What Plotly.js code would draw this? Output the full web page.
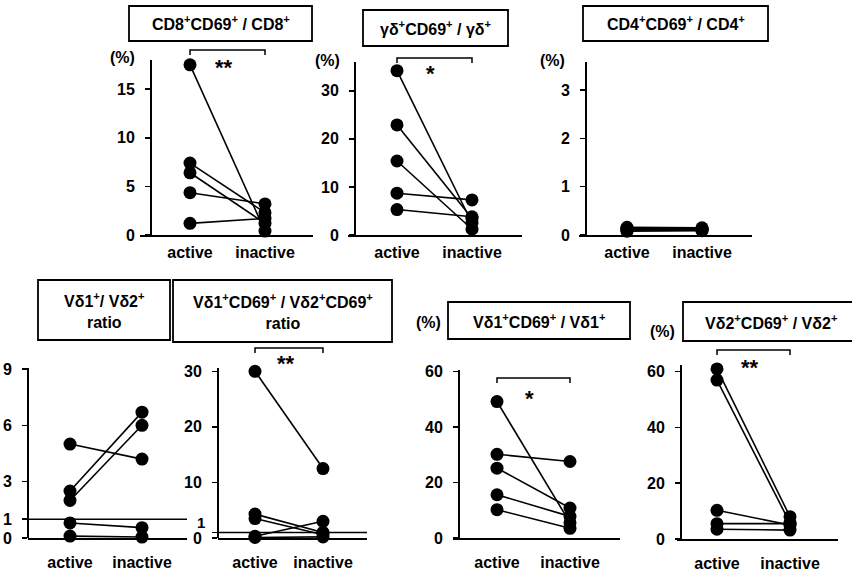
<!DOCTYPE html>
<html><head><meta charset="utf-8">
<script src="https://cdn.plot.ly/plotly-3.0.1.min.js"></script>
<style>html,body{margin:0;padding:0;background:#fff}#chart{width:852px;height:577px}</style>
</head><body><div id="chart"></div>
<script>
// ---- data ----
const categories = ['active', 'inactive'];
const cd8Active = [17.5, 7.4, 6.4, 4.35, 1.2];
const cd8Inactive = [0.4, 2.3, 1.2, 3.2, 1.7];
const gdActive = [34.2, 22.9, 15.4, 8.7, 5.3];
const gdInactive = [2.5, 3.5, 1.2, 7.3, 3.8];
const cd4Active = [0.16, 0.12, 0.1, 0.08, 0.14];
const cd4Inactive = [0.15, 0.1, 0.12, 0.09, 0.13];
const v1v2Active = [5.0, 2.5, 2.0, 0.8, 0.1];
const v1v2Inactive = [4.2, 6.7, 6.0, 0.55, 0.05];
const v1v2cd69Active = [30, 4.3, 3.5, 0.3, 0.1];
const v1v2cd69Inactive = [12.5, 1.0, 0.6, 3.0, 0.2];
const v1cd69Active = [49.2, 30.2, 25.2, 15.6, 10.2];
const v1cd69Inactive = [5.5, 27.6, 10.8, 7.8, 3.5];
const v2cd69Active = [61, 57, 10.3, 5.5, 3.5];
const v2cd69Inactive = [8, 5.7, 5.0, 5.5, 3.2];
const refValue = 1;

const titles = [
  'CD8<sup>+</sup>CD69<sup>+</sup> / CD8<sup>+</sup>',
  'γδ<sup>+</sup>CD69<sup>+</sup> / γδ<sup>+</sup>',
  'CD4<sup>+</sup>CD69<sup>+</sup> / CD4<sup>+</sup>',
  'Vδ1<sup>+</sup>/ Vδ2<sup>+</sup><br>ratio',
  'Vδ1<sup>+</sup>CD69<sup>+</sup> / Vδ2<sup>+</sup>CD69<sup>+</sup><br>ratio',
  'Vδ1<sup>+</sup>CD69<sup>+</sup> / Vδ1<sup>+</sup>',
  'Vδ2<sup>+</sup>CD69<sup>+</sup> / Vδ2<sup>+</sup>'
];
const tickSets = [[0,5,10,15],[0,10,20,30],[0,1,2,3],[0,1,3,6,9],[0,1,10,20,30],[0,20,40,60],[0,20,40,60]];
const significance = ['**','*','','','**','*','**'];

// ---- layout geometry (pixels) ----
const W = 852, H = 577;
const FONT = 'Liberation Sans, Arial, sans-serif';
const geo = [
  {xl:140, xr:313, yx:151, ytop:60,  ybot:235, ax:190, ix:265, ymax:18,   box:[129,6,312,41],  pct:[122,57], br:[50,63], std:2},
  {xl:348, xr:522, yx:355, ytop:62,  ybot:235, ax:397, ix:472, ymax:36,   box:[363,10,508,46], pct:[327,60], br:[58,68], std:2},
  {xl:579, xr:752, yx:586, ytop:62,  ybot:235, ax:627, ix:702, ymax:3.58, box:[583,6,768,41],  pct:[552,60], br:null, std:2},
  {xl:28,  xr:187, yx:28,  ytop:368, ybot:538, ax:70,  ix:142, ymax:9.05, box:[38,280,170,340], pct:null, br:null, std:9},
  {xl:218, xr:367, yx:218, ytop:368, ybot:538, ax:255, ix:323, ymax:30.6, box:[173,280,392,342], pct:null, br:[348,358], std:9},
  {xl:453, xr:620, yx:459, ytop:370, ybot:538, ax:497, ix:570, ymax:60.6, box:[448,302,630,339], pct:[428,322], br:[378,393], std:9},
  {xl:677, xr:838, yx:681, ytop:365, ybot:539, ax:717, ix:790, ymax:62.4, box:[683,302,860,341], pct:[662,331], br:[350,362], std:9}
];
const actives = [cd8Active, gdActive, cd4Active, v1v2Active, v1v2cd69Active, v1cd69Active, v2cd69Active];
const inactives = [cd8Inactive, gdInactive, cd4Inactive, v1v2Inactive, v1v2cd69Inactive, v1cd69Inactive, v2cd69Inactive];

const traces = [];
const TF = {size:16, family:FONT, weight:'bold', color:'#000'};
const layout = {
  width: W, height: H, margin:{l:0,r:0,t:0,b:0},
  paper_bgcolor:'#fff', plot_bgcolor:'rgba(0,0,0,0)', showlegend:false,
  font:{family:FONT, color:'#000', size:16},
  shapes:[], annotations:[]
};
const px = x => x / W, py = y => 1 - y / H;

geo.forEach((g, k) => {
  const n = k + 1;
  const xs = n === 1 ? '' : String(n);
  const unit = g.ix - g.ax;
  const a = actives[k], b = inactives[k];
  for (let i = 0; i < a.length; i++) {
    traces.push({
      type:'scatter', mode:'lines+markers', x: categories, y:[a[i], b[i]],
      xaxis:'x'+xs, yaxis:'y'+xs, cliponaxis:false,
      line:{color:'#000', width:1.6}, marker:{color:'#000', size:13}, hoverinfo:'skip'
    });
  }
  let tv = tickSets[k], tt = tv.map(String);
  if (k === 4) tt = tv.map(v => v === 1 ? '' : String(v));
  layout['xaxis'+xs] = {
    domain:[px(g.xl), px(g.xr)], anchor:'y'+xs, type:'category',
    range:[-(g.ax - g.xl)/unit, 1 + (g.xr - g.ix)/unit],
    showline:true, linecolor:'#000', linewidth:2, ticks:'', showgrid:false, zeroline:false,
    ticklabelstandoff:g.std, tickfont:TF, fixedrange:true
  };
  layout['yaxis'+xs] = {
    domain:[py(g.ybot), py(g.ytop)], anchor:'free', position:px(g.yx), range:[0, g.ymax],
    showline:true, linecolor:'#000', linewidth:2, ticks:'outside', ticklen:5, tickwidth:1.5, tickcolor:'#000',
    tickvals:tv, ticktext:tt, showgrid:false, zeroline:false, ticklabelstandoff:7,
    tickfont:TF, fixedrange:true
  };
  // title box
  layout.shapes.push({type:'rect', xref:'paper', yref:'paper', x0:px(g.box[0]), x1:px(g.box[2]), y0:py(g.box[3]), y1:py(g.box[1]),
    line:{color:'#000', width:1.8}, fillcolor:'rgba(0,0,0,0)'});
  layout.annotations.push({xref:'paper', yref:'paper', x:px((g.box[0]+g.box[2])/2), y:py((g.box[1]+g.box[3])/2),
    text:titles[k], showarrow:false, xanchor:'center', yanchor:'middle', font:{size:16, family:FONT, weight:'bold'}});
  if (g.pct) layout.annotations.push({xref:'paper', yref:'paper', x:px(g.pct[0]), y:py(g.pct[1]), text:'(%)',
    showarrow:false, xanchor:'center', yanchor:'middle', font:TF});
  // reference line at 1 for ratio panels
  if (k === 3 || k === 4) {
    layout.shapes.push({type:'line', xref:'x'+xs+' domain', yref:'y'+xs, x0:0, x1:1, y0:refValue, y1:refValue,
      line:{color:'#000', width:1.4}});
  }
  if (k === 4) {
    layout.annotations.push({xref:'paper', yref:'y'+xs, x:px(g.yx - 11), y:refValue, yshift:10, text:'1',
      showarrow:false, xanchor:'right', yanchor:'middle', font:{size:15, family:FONT, weight:'bold'}});
  }
  // significance bracket
  if (g.br) {
    const domH = g.ybot - g.ytop;
    const yb = (g.ybot - g.br[0]) / domH, yt = (g.ybot - g.br[0] - 5) / domH;
    layout.shapes.push({type:'path', xref:'x'+xs, yref:'y'+xs+' domain',
      path:`M 0,${yt} L 0,${yb} L 1,${yb} L 1,${yt}`, line:{color:'#000', width:1.5}});
    layout.annotations.push({xref:'x'+xs, yref:'paper', x:0.45, y:py(g.br[1]), yshift:-5, text:significance[k],
      showarrow:false, xanchor:'center', yanchor:'middle', font:{size:22, family:FONT, weight:'bold'}});
  }
});

Plotly.newPlot('chart', traces, layout, {staticPlot:true, displayModeBar:false});
</script>
</body></html>
